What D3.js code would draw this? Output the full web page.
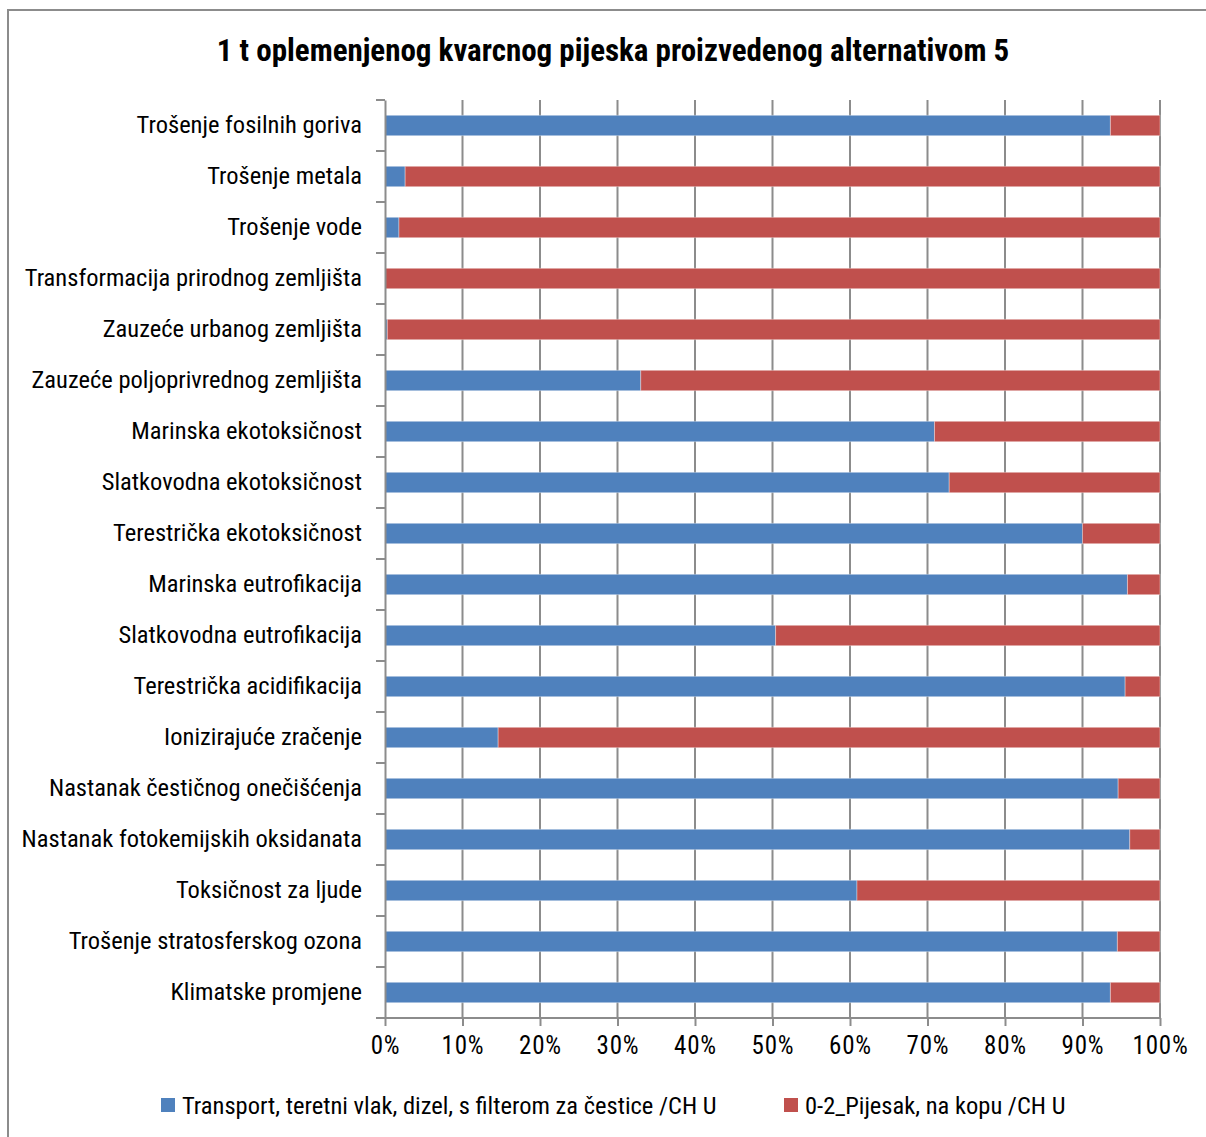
<!DOCTYPE html>
<html>
<head>
<meta charset="utf-8">
<script src="https://cdn.jsdelivr.net/npm/d3@7"></script>
<style>
  html, body { margin: 0; padding: 0; background: #fff; }
  svg text { font-family: "Liberation Sans Narrow", "Arial Narrow", "Roboto Condensed", sans-serif; fill: #000; }
</style>
</head>
<body>
<svg id="chart" width="1206" height="1137"></svg>
<script>
const title = "1 t oplemenjenog kvarcnog pijeska proizvedenog alternativom 5";

const categories = [
  "Trošenje fosilnih goriva",
  "Trošenje metala",
  "Trošenje vode",
  "Transformacija prirodnog zemljišta",
  "Zauzeće urbanog zemljišta",
  "Zauzeće poljoprivrednog zemljišta",
  "Marinska ekotoksičnost",
  "Slatkovodna ekotoksičnost",
  "Terestrička ekotoksičnost",
  "Marinska eutrofikacija",
  "Slatkovodna eutrofikacija",
  "Terestrička acidifikacija",
  "Ionizirajuće zračenje",
  "Nastanak čestičnog onečišćenja",
  "Nastanak fotokemijskih oksidanata",
  "Toksičnost za ljude",
  "Trošenje stratosferskog ozona",
  "Klimatske promjene"
];

const seriesNames = [
  "Transport, teretni vlak, dizel, s filterom za čestice /CH U",
  "0-2_Pijesak, na kopu /CH U"
];

// share of the transport process, percent
const transport = [93.6, 2.6, 1.8, 0.0, 0.3, 33.0, 70.9, 72.8, 90.0, 95.8, 50.4, 95.5, 14.6, 94.6, 96.1, 60.9, 94.5, 93.6];
// share of the sand extraction process, percent
const pijesak = transport.map(v => 100 - v);

const tickValues = [0, 10, 20, 30, 40, 50, 60, 70, 80, 90, 100];
const colors = ["#4F81BD", "#C0504D"];

const svg = d3.select("#chart");
const W = 1206, H = 1137;
const margin = { left: 385, right: 46, top: 100, bottom: 119 };

// outer chart frame
svg.append("rect")
  .attr("x", 8).attr("y", 10).attr("width", W + 10).attr("height", H + 10)
  .attr("fill", "#fff").attr("stroke", "#8c8c8c").attr("stroke-width", 2);

svg.append("text")
  .attr("x", 613).attr("y", 61)
  .attr("text-anchor", "middle")
  .style("font-size", "31px").style("font-weight", "bold")
  .text(title);

const x = d3.scaleLinear().domain([0, 100]).range([margin.left, W - margin.right]);
const y = d3.scaleBand().domain(categories).range([margin.top, H - margin.bottom]).paddingInner(0.6).paddingOuter(0.3);
const yb = d3.scaleBand().domain(categories).range([margin.top, H - margin.bottom]);

// vertical gridlines
svg.append("g").selectAll("line").data(tickValues.slice(1)).join("line")
  .attr("x1", d => x(d)).attr("x2", d => x(d))
  .attr("y1", margin.top).attr("y2", H - margin.bottom)
  .attr("stroke", "#8c8c8c").attr("stroke-width", 2);

// stacked bars
const rows = categories.map((c, i) => ({ c, vals: [transport[i], pijesak[i]] }));
const stack = d3.stack().keys([0, 1]).value((d, k) => d.vals[k]);
const layers = stack(rows);
svg.append("g").selectAll("g").data(layers).join("g")
  .attr("fill", (d, i) => colors[i])
  .selectAll("rect").data(d => d).join("rect")
  .attr("x", d => x(d[0]))
  .attr("width", d => Math.max(0, x(d[1]) - x(d[0])))
  .attr("y", d => y(d.data.c))
  .attr("height", y.bandwidth())
  .attr("stroke", "rgba(255,255,255,0.35)").attr("stroke-width", 1);

// category axis
const yAxis = d3.axisLeft(yb).tickSize(0).tickPadding(23);
const gy = svg.append("g").attr("transform", `translate(${margin.left},0)`).call(yAxis);
gy.select(".domain").attr("stroke", "#8c8c8c").attr("stroke-width", 2);
gy.selectAll("text").style("font-size", "24.5px");
// tick marks between categories
const bounds = categories.map(c => yb(c)).concat([H - margin.bottom]);
gy.selectAll("line.sep").data(bounds).join("line").attr("class", "sep")
  .attr("x1", -9).attr("x2", 0).attr("y1", d => d).attr("y2", d => d)
  .attr("stroke", "#8c8c8c").attr("stroke-width", 2);

// value axis
const xAxis = d3.axisBottom(x).tickValues(tickValues).tickFormat(d => d + "%").tickSize(8).tickPadding(10);
const gx = svg.append("g").attr("transform", `translate(0,${H - margin.bottom})`).call(xAxis);
gx.select(".domain").attr("d", `M${x(0)},0H${x(100)}`).attr("stroke", "#8c8c8c").attr("stroke-width", 2);
gx.selectAll(".tick line").attr("stroke", "#8c8c8c").attr("stroke-width", 2);
gx.selectAll("text").style("font-size", "25px").style("letter-spacing", "0.8px");

// legend
const legendX = [161, 784];
const lg = svg.append("g").selectAll("g").data(seriesNames).join("g")
  .attr("transform", (d, i) => `translate(${legendX[i]},1098)`);
lg.append("rect").attr("width", 14).attr("height", 14).attr("fill", (d, i) => colors[i]);
lg.append("text").attr("x", 21).attr("y", 16).style("font-size", "24.5px").text(d => d);
</script>
</body>
</html>
